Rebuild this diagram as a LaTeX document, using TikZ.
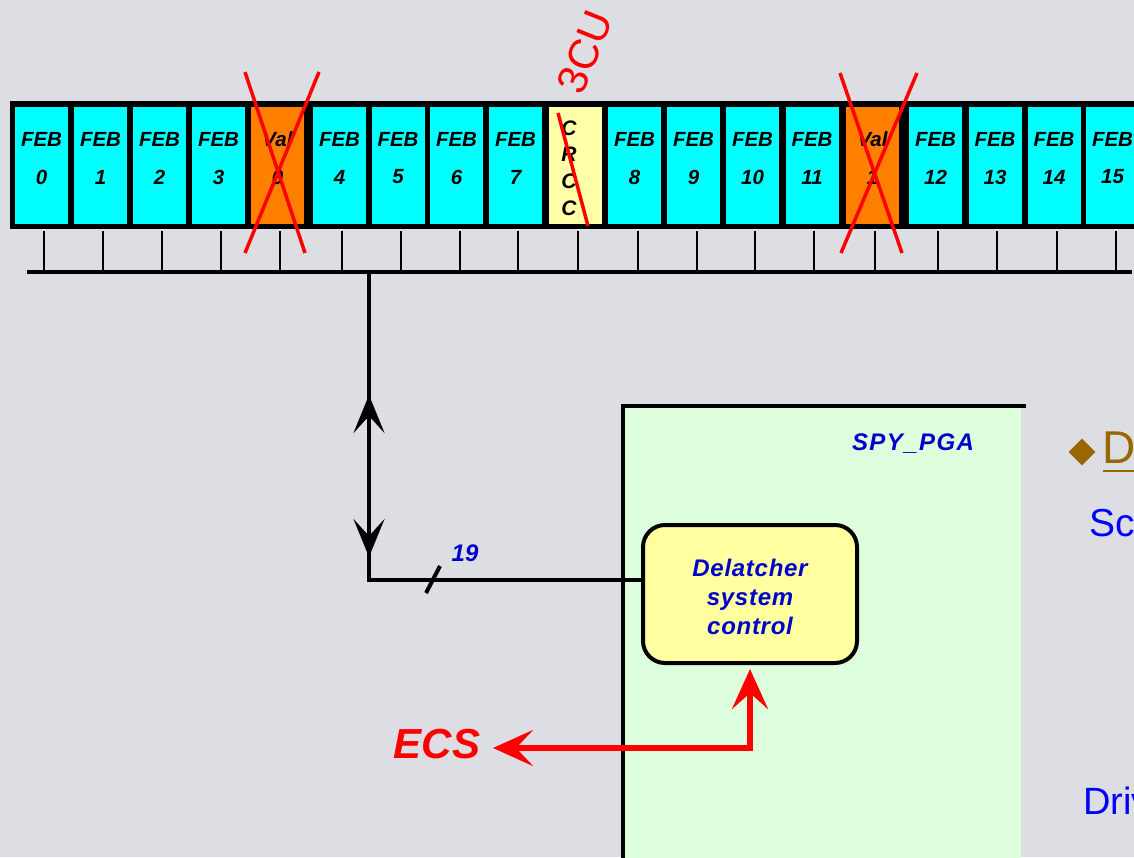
\documentclass[tikz,border=0pt]{standalone}
\usepackage{fontspec}
\setmainfont{Liberation Sans}
\usetikzlibrary{arrows.meta,shapes.geometric,calc}
\definecolor{bgc}{RGB}{221,222,227}
\definecolor{febc}{RGB}{0,255,255}
\definecolor{valc}{RGB}{255,128,0}
\definecolor{crccc}{RGB}{255,255,170}
\definecolor{spyg}{RGB}{222,255,222}
\definecolor{delc}{RGB}{255,255,160}
\definecolor{dblue}{RGB}{0,0,204}
\definecolor{bblue}{RGB}{0,0,255}
\definecolor{bulbrown}{RGB}{153,102,0}
\definecolor{xred}{RGB}{255,0,0}
\tikzset{
  slot/.style={rectangle, inner sep=0pt, minimum width=53pt, minimum height=117.5pt, draw=none},
  lab/.style={inner sep=0pt, font=\fontsize{20.5}{24}\selectfont\bfseries\itshape},
  combtick/.style={line width=2.5pt},
  busline/.style={line width=4pt},
  xmark/.style={draw=xred, line width=3.5pt},
  blkarrow/.style={line width=4pt, -{Stealth[length=38pt, width=31pt, inset=17pt]}},
  redarrow/.style={draw=xred, line width=6pt, {Stealth[length=40pt, width=36pt, inset=17pt]}-{Stealth[length=40pt, width=36pt, inset=16pt]}},
  bluelab/.style={inner sep=0pt, text=dblue, font=\fontsize{24}{29}\selectfont\bfseries\itshape\addfontfeature{LetterSpace=6}},
}
\begin{document}
\begin{tikzpicture}[x=1pt,y=-1pt]
\useasboundingbox (0,0) rectangle (1134,857);
\clip (0,0) rectangle (1134,857);
\fill[bgc] (0,0) rectangle (1134,857);

% crate
\fill[black] (10,101) rectangle (1150,229);
\foreach \x/\n in {41.5/0,100.5/1,159.5/2,218.5/3,339.5/4,398/5,456.5/6,515.5/7,634.5/8,693.5/9,752.5/10,812/11,935.5/12,995/13,1054/14,1112.5/15}{
  \node[slot, fill=febc] (feb\n) at (\x,165.25) {};
  \node[lab] (febt\n) at (\x,139) {FEB};
  \node[lab] (febn\n) at (\x,177) {\n};
}
\node[slot, fill=valc] (val0) at (277.5,165.25) {};
\node[lab] (valt0) at (277.5,139) {Val};
\node[lab] (valn0) at (277.5,177) {0};
\node[slot, fill=valc] (val1) at (872.5,165.25) {};
\node[lab] (valt1) at (872.5,139) {Val};
\node[lab] (valn1) at (872.5,177) {1};
\node[slot, fill=crccc] (crcc) at (575,165.25) {};
\node[inner sep=0pt, align=center, font=\fontsize{21}{26.7}\selectfont\bfseries\itshape] (crcct) at (569,168) {C\\R\\C\\C};

% crosses
\draw[xmark] (245,72) -- (305,253);
\draw[xmark] (319,72) -- (245,253);
\draw[xmark] (840,73) -- (902,253);
\draw[xmark] (917,73) -- (841,253);
\draw[xmark] (558,113) -- (588,226);
\node[inner sep=0pt, text=xred, rotate=68, font=\fontsize{42}{44}\selectfont] (cu) at (585,52) {3CU};

% comb and bus
\foreach \x in {44,103,162,221,280,342,401,460,518,578,638,697,755,814,875,938,997,1057,1116}{
  \draw[combtick] (\x,231) -- (\x,272);
}
\draw[busline] (27,272) -- (1132,272);

% SPY_PGA box
\fill[spyg] (623,406) rectangle (1021,860);
\draw[line width=4pt] (623,862) -- (623,406) -- (1026,406);
\node[bluelab] (spy) at (913,444) {SPY\_PGA};

% Delatcher
\node[draw, line width=4pt, fill=delc, rounded corners=22pt, minimum width=214pt, minimum height=138pt, inner sep=0pt] (del) at (750,594) {};
\node[bluelab, align=center, font=\fontsize{24}{29}\selectfont\bfseries\itshape\addfontfeature{LetterSpace=3}] (delt) at (750,597) {Delatcher\\system\\control};

% bus connection
\coordinate (tap) at (369,272);
\draw[busline] (tap) |- ([yshift=14pt]del.west);
\draw[blkarrow] (369,460) -- (369,395);
\draw[blkarrow] (369,480) -- (369,557);
\draw[line width=4pt] (426,593) -- (440,566);
\node[bluelab, font=\fontsize{24}{29}\selectfont\bfseries\itshape] (n19) at (465,553) {19};

% ECS
\coordinate (ecstip) at (493,748);
\coordinate (deltip) at (750,669);
\draw[redarrow] (ecstip) -| (deltip);
\node[inner sep=0pt, text=xred, font=\fontsize{42}{46}\selectfont\bfseries\itshape] (ecs) at (437,744) {ECS};

% right side text
\node[diamond, fill=bulbrown, minimum width=27pt, minimum height=27pt, inner sep=0pt] (bul) at (1082,452) {};
\node[inner sep=0pt, anchor=base west, text=bulbrown, font=\fontsize{46}{50}\selectfont] (dtxt) at (1102,463) {D};
\draw[bulbrown, line width=2.5pt] (1103,471) -- (1140,471);
\node[inner sep=0pt, anchor=base west, text=bblue, font=\fontsize{39}{44}\selectfont] (sc) at (1089,536) {Sc};
\node[inner sep=0pt, anchor=base west, text=bblue, font=\fontsize{38}{44}\selectfont] (driv) at (1083,814) {Driv};
\end{tikzpicture}
\end{document}
